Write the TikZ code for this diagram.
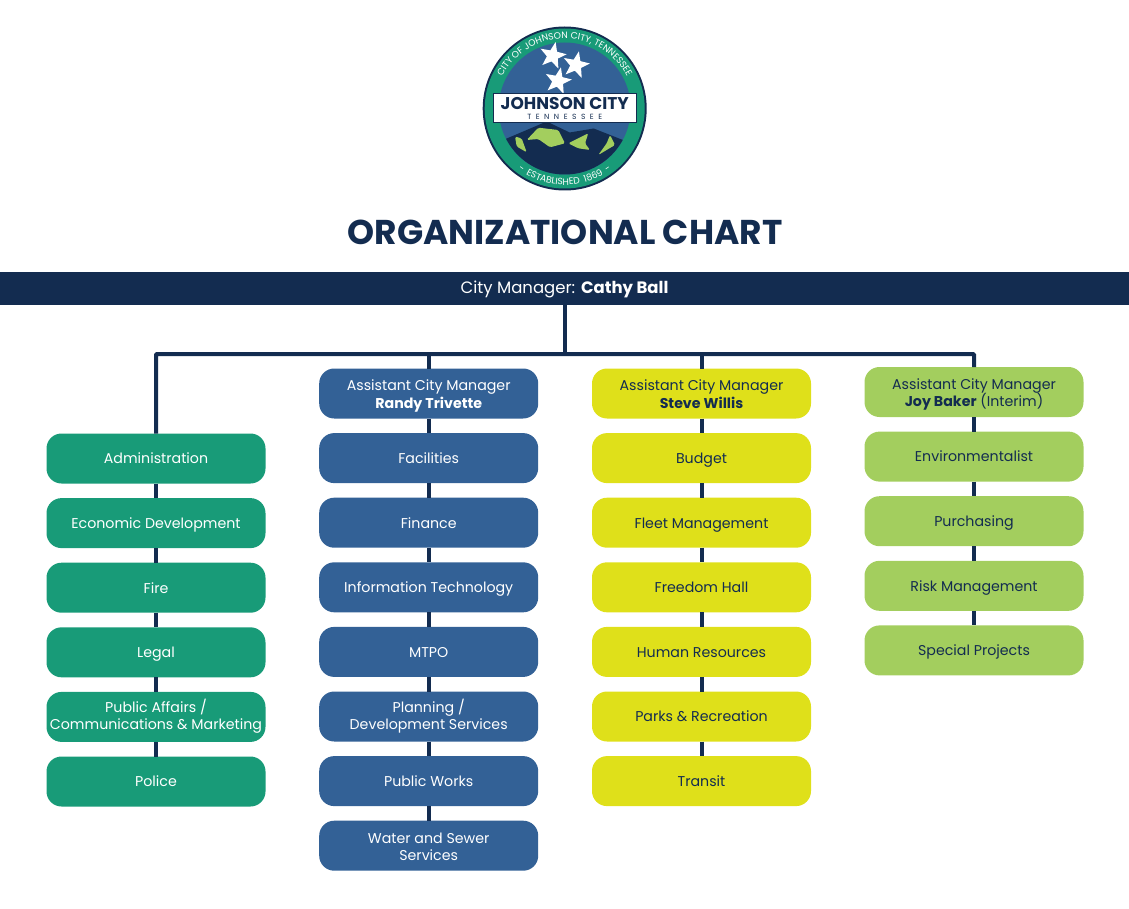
\documentclass[tikz,border=0pt]{standalone}
\usepackage{fontspec}
\setmainfont{Poppins}
\definecolor{cityNavy}{RGB}{19,44,80}
\definecolor{cityTeal}{RGB}{24,155,120}
\definecolor{cityBlue}{RGB}{51,97,150}
\definecolor{cityYellow}{RGB}{223,224,26}
\definecolor{cityGreen}{RGB}{163,206,94}
\usetikzlibrary{positioning,shapes.geometric,decorations.text}
\newcommand{\boxstrut}{\rule[-5.1pt]{0pt}{20.9pt}}
\newcommand{\lowline}[1]{\raisebox{-9pt}[0pt][0pt]{#1}}

\begin{document}
\begin{tikzpicture}[
  x=1pt,y=-1pt,
  node distance=14.6pt,
  every node/.style={font=\fontsize{14.2}{17}\selectfont},
  box/.style={rounded corners=15pt,minimum width=219pt,minimum height=50pt,inner sep=0pt,outer sep=0pt,align=center,
    execute at begin node=\boxstrut,execute at end node=\boxstrut},
  tealbox/.style={box,fill=cityTeal,text=white},
  bluebox/.style={box,fill=cityBlue,text=white},
  yellowbox/.style={box,fill=cityYellow,text=cityNavy},
  greenbox/.style={box,fill=cityGreen,text=cityNavy},
  link/.style={draw=cityNavy,line width=4pt},
  logostar/.style={star,star points=5,star point ratio=2.4,fill=white,minimum size=28pt,inner sep=0pt},
  hill/.style={fill=cityGreen,rounded corners=1.5pt}
]
  \useasboundingbox (0,0) rectangle (1129,909);

  % seal
  \begin{scope}[shift={(564.7,108.5)},y=1pt]
    \fill[cityNavy] (0,0) circle (82);
    \fill[cityTeal] (0,0) circle (80);
    \fill[cityBlue] (0,0) circle (66);
    \begin{scope}
      \clip (0,0) circle (66);
      \fill[cityNavy] (-70,-36) -- (-58,-30) -- (-18,-13) -- (5,-24) -- (29,-20) -- (62,-33) -- (70,-36) -- (70,-70) -- (-70,-70) -- cycle;
    \end{scope}
    \fill[hill] (-38,-31.5) -- (-26.4,-19.2) -- (-6.4,-21.5) -- (0.3,-34.8) -- (-14.7,-38.8) -- (-26.4,-30.5) -- cycle;
    \fill[hill] (-49.7,-28) -- (-43,-30) -- (-38,-43.8) -- (-48,-38) -- cycle;
    \fill[hill] (3.6,-34.8) -- (23.6,-24.8) -- (20.3,-34.8) -- (25.3,-41.5) -- (13.6,-39.8) -- cycle;
    \fill[hill] (45.3,-26.5) -- (50.3,-36.5) -- (33.6,-46.5) -- (42,-34.8) -- cycle;
    \node[logostar,rotate=-12] (star1) at (-12,52.8) {};
    \node[logostar,rotate=-12] (star2) at (11.3,43.5) {};
    \node[logostar,rotate=-12] (star3) at (-6.7,27.5) {};
    \node[draw=cityNavy,fill=white,line width=1pt,minimum width=143pt,minimum height=29pt,inner sep=0pt] (banner) at (0,0) {};
    \node[text=cityNavy,font=\fontsize{17}{17}\selectfont\bfseries,inner sep=0pt] (cityname) at (0,4.5) {JOHNSON CITY};
    \node[text=cityNavy,font=\fontsize{7.5}{8}\selectfont\addfontfeatures{LetterSpace=60},inner sep=0pt] (cityState) at (0,-8.5) {TENNESSEE};
    \path[decorate,decoration={text along path,text align=center,
      text={|\fontsize{9.2}{9}\selectfont\color{white}|CITY OF JOHNSON CITY, TENNESSEE}}]
      (-70,-3.7) arc (183:-3:70);
    \path[decorate,decoration={text along path,text align=center,
      text={|\fontsize{9.2}{9}\selectfont\addfontfeatures{LetterSpace=24}\color{white}|- ESTABLISHED 1869 -}}]
      (-73.9,-19.8) arc (195:345:76.5);
  \end{scope}

  \node[text=cityNavy,font=\fontsize{34.4}{38}\selectfont\bfseries] (title) at (565,232) {ORGANIZATIONAL CHART};

  \node[fill=cityNavy,text=white,minimum width=1129pt,minimum height=33pt,inner sep=0pt,outer sep=0pt,font=\fontsize{16.5}{20}\selectfont,execute at begin node=\boxstrut,execute at end node=\boxstrut] (manager) at (564.5,288.5) {City Manager: \textbf{Cathy Ball}};
  \coordinate (bus) at (565,354);

  % first column
  \node[tealbox] (admin) at (156,458.5) {Administration};
  \node[tealbox,below=of admin] (econ) {Economic Development};
  \node[tealbox,below=of econ] (fire) {Fire};
  \node[tealbox,below=of fire] (legal) {Legal};
  \node[tealbox,below=of legal] (affairs) {Public Affairs /\\Communications \& Marketing};
  \node[tealbox,below=of affairs] (police) {Police};

  % second column
  \node[bluebox] (randy) at (428.7,393.5) {\lowline{Assistant City Manager}\\[1pt]\lowline{\textbf{Randy Trivette}}};
  \node[bluebox,below=of randy] (facilities) {Facilities};
  \node[bluebox,below=of facilities] (finance) {Finance};
  \node[bluebox,below=of finance] (infotech) {Information Technology};
  \node[bluebox,below=of infotech] (mtpo) {MTPO};
  \node[bluebox,below=of mtpo] (planning) {Planning /\\Development Services};
  \node[bluebox,below=of planning] (works) {Public Works};
  \node[bluebox,below=of works] (water) {\lowline{Water and Sewer}\\\lowline{Services}};

  % third column
  \node[yellowbox] (steve) at (701.5,393.5) {\lowline{Assistant City Manager}\\[1pt]\lowline{\textbf{Steve Willis}}};
  \node[yellowbox,below=of steve] (budget) {Budget};
  \node[yellowbox,below=of budget] (fleet) {Fleet Management};
  \node[yellowbox,below=of fleet] (freedom) {Freedom Hall};
  \node[yellowbox,below=of freedom] (human) {Human Resources};
  \node[yellowbox,below=of human] (parks) {Parks \& Recreation};
  \node[yellowbox,below=of parks] (transit) {Transit};

  % fourth column
  \node[greenbox] (joy) at (974,392) {\lowline{Assistant City Manager}\\\lowline{\textbf{Joy Baker} (Interim)}};
  \node[greenbox,below=of joy] (environ) {Environmentalist};
  \node[greenbox,below=of environ] (purchasing) {Purchasing};
  \node[greenbox,below=of purchasing] (risk) {Risk Management};
  \node[greenbox,below=of risk] (projects) {Special Projects};

  \draw[link] (manager.south -| bus) -- (bus);
  \draw[link,rounded corners=1pt] (admin.north) |- (bus) -| (joy.north);
  \draw[link] (randy.north |- bus) -- (randy.north);
  \draw[link] (steve.north |- bus) -- (steve.north);
  \draw[link] (admin) -- (econ);
  \draw[link] (econ) -- (fire);
  \draw[link] (fire) -- (legal);
  \draw[link] (legal) -- (affairs);
  \draw[link] (affairs) -- (police);
  \draw[link] (randy) -- (facilities);
  \draw[link] (facilities) -- (finance);
  \draw[link] (finance) -- (infotech);
  \draw[link] (infotech) -- (mtpo);
  \draw[link] (mtpo) -- (planning);
  \draw[link] (planning) -- (works);
  \draw[link] (works) -- (water);
  \draw[link] (steve) -- (budget);
  \draw[link] (budget) -- (fleet);
  \draw[link] (fleet) -- (freedom);
  \draw[link] (freedom) -- (human);
  \draw[link] (human) -- (parks);
  \draw[link] (parks) -- (transit);
  \draw[link] (joy) -- (environ);
  \draw[link] (environ) -- (purchasing);
  \draw[link] (purchasing) -- (risk);
  \draw[link] (risk) -- (projects);
\end{tikzpicture}
\end{document}
